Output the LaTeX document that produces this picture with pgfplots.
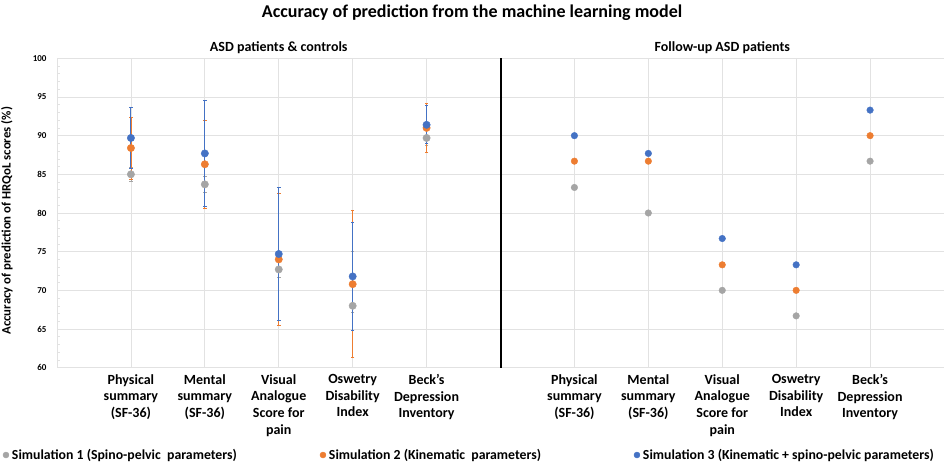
\documentclass[border=0pt]{standalone}
\usepackage{pgfplots}
\usepackage{pgfplotstable}
\pgfplotsset{compat=1.18}
\usepackage{fontspec}
\setmainfont{Carlito}
\definecolor{cA}{HTML}{A5A5A5}
\definecolor{cO}{HTML}{ED7D31}
\definecolor{cB}{HTML}{4472C4}
\definecolor{grd}{HTML}{E2E2E2}

\pgfplotstableread{
x y1 e1p e1m y2 e2 y3 e3
1 85.0 0.9 0.9 88.4 4.0 89.7 3.9
2 83.7 1.0 1.0 86.3 5.7 87.7 6.8
3 72.7 1.0 1.0 74.0 8.5 74.7 8.6
4 68.0 7.1 0.9 70.8 9.5 71.8 7.0
5 89.7 1.0 1.0 91.0 3.2 91.4 2.45
}\tabL

\pgfplotstableread{
x y1 y2 y3
7 83.3 86.7 90.0
8 80.0 86.7 87.7
9 70.0 73.3 76.7
10 66.7 70.0 73.3
11 86.7 90.0 93.3
}\tabR

\begin{document}
\begin{tikzpicture}[x=1pt,y=1pt]
\path[use as bounding box] (0,0) rectangle (945,462);
\begin{axis}[
  at={(57pt,94.3pt)}, anchor=south west,
  scale only axis, width=887pt, height=309.4pt,
  xmin=0, xmax=12, ymin=60, ymax=100,
  clip=false,
  axis x line*=bottom, axis y line*=left,
  axis line style={-},
  x axis line style={draw=none},
  y axis line style={draw=grd, line width=0.8pt},
  xtick={1,2,3,4,5,7,8,9,10,11},
  xticklabels={{Physical\\summary\\(SF-36)},{Mental\\summary\\(SF-36)},{Visual\\Analogue\\Score for\\pain},{Oswetry\\Disability\\Index},{Beck’s\\Depression\\Inventory},
               {Physical\\summary\\(SF-36)},{Mental\\summary\\(SF-36)},{Visual\\Analogue\\Score for\\pain},{Oswetry\\Disability\\Index},{Beck’s\\Depression\\Inventory}},
  xticklabel style={font=\bfseries\fontsize{14}{16.7}\selectfont, align=center, anchor=north, yshift=-3pt},
  ytick={60,65,...,100},
  yticklabel style={font=\bfseries\fontsize{9}{10}\selectfont, xshift=-7pt},
  /pgf/number format/assume math mode=true,
  minor y tick num=4,
  major tick length=0pt, minor tick length=3pt,
  tick style={draw=grd, line width=0.6pt},
  xmajorgrids, ymajorgrids,
  grid style={draw=grd, line width=0.8pt},
  ylabel={Accuracy of prediction of HRQoL scores (\%)},
  ylabel style={font=\bfseries\fontsize{12.8}{14}\selectfont, at={(axis description cs:-0.0564,0.475)}, anchor=center},
  legend columns=3,
  legend style={at={(axis description cs:-0.0609,-0.2822)}, anchor=west, draw=none, fill=none,
    inner sep=0pt, outer sep=0pt, font=\bfseries\fontsize{13.8}{16}\selectfont,
    nodes={inner sep=1pt},
    /tikz/every odd column/.append style={column sep=2pt}},
  legend cell align=left,
  legend image code/.code={\draw[#1, mark size=3pt] plot coordinates {(3pt,0pt)};},
]
% error bars (drawn under the markers)
\addplot[forget plot, only marks, mark=none,
  error bars/.cd, y dir=both, y explicit, error mark=-,
  error bar style={draw=cA, line width=0.7pt},
  error mark options={rotate=90, draw=cA, mark size=1.8pt, line width=0.7pt}]
  table[x=x, y=y1, y error plus=e1p, y error minus=e1m]{\tabL};
\addplot[forget plot, only marks, mark=none,
  error bars/.cd, y dir=both, y explicit, error mark=-,
  error bar style={draw=cO, line width=0.8pt},
  error mark options={rotate=90, draw=cO, mark size=1.8pt, line width=0.8pt}]
  table[x=x, y=y2, y error=e2]{\tabL};
\addplot[forget plot, only marks, mark=none,
  error bars/.cd, y dir=both, y explicit, error mark=-,
  error bar style={draw=cB, line width=1pt},
  error mark options={rotate=90, draw=cB, mark size=1.8pt, line width=0.9pt}]
  table[x=x, y=y3, y error=e3]{\tabL};
% separator
\addplot[forget plot, black, line width=2pt, mark=none] coordinates {(6,60) (6,100)};
% markers, left panel
\addplot[only marks, mark=*, mark size=3.7pt, color=cA, mark options={draw=cA, fill=cA}] table[x=x, y=y1]{\tabL};
\addlegendentry{\makebox[307pt][l]{Simulation 1 (Spino-pelvic\ \ parameters)}}
\addplot[only marks, mark=*, mark size=3.7pt, color=cO, mark options={draw=cO, fill=cO}] table[x=x, y=y2]{\tabL};
\addlegendentry{\makebox[304pt][l]{Simulation 2 (Kinematic\ \ parameters)}}
\addplot[only marks, mark=*, mark size=3.7pt, color=cB, mark options={draw=cB, fill=cB}] table[x=x, y=y3]{\tabL};
\addlegendentry{Simulation 3 (Kinematic + spino-pelvic parameters)}
% markers, right panel
\addplot[forget plot, only marks, mark=*, mark size=3.3pt, color=cA, mark options={draw=cA, fill=cA}] table[x=x, y=y1]{\tabR};
\addplot[forget plot, only marks, mark=*, mark size=3.3pt, color=cO, mark options={draw=cO, fill=cO}] table[x=x, y=y2]{\tabR};
\addplot[forget plot, only marks, mark=*, mark size=3.3pt, color=cB, mark options={draw=cB, fill=cB}] table[x=x, y=y3]{\tabR};
% titles
\node[font=\bfseries\fontsize{18}{20}\selectfont] at (axis description cs:0.468,1.1464) {Accuracy of prediction from the machine learning model};
\node[font=\bfseries\fontsize{14}{15}\selectfont] at (axis cs:3,101.42) {ASD patients \& controls};
\node[font=\bfseries\fontsize{14}{15}\selectfont] at (axis cs:9,101.42) {Follow-up ASD patients};
\end{axis}
\end{tikzpicture}
\end{document}
